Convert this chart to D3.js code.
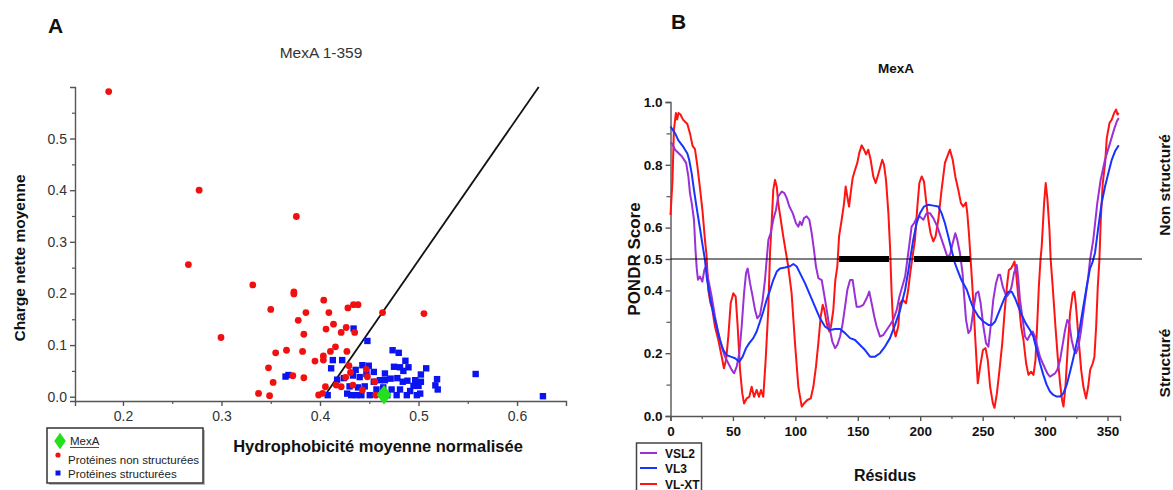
<!DOCTYPE html>
<html><head><meta charset="utf-8">
<script src="https://cdn.jsdelivr.net/npm/d3@7"></script>
<style>body{margin:0;background:#fff;} svg{display:block;font-family:"Liberation Sans",Arial,sans-serif;}</style>
</head><body>
<svg id="c" width="1173" height="490"></svg>
<script>
// ---------- Panel A data ----------
const redX=[0.1855,0.2773,0.2664,0.376,0.3318,0.3735,0.3735,0.2995,0.350,0.3857,0.4038,0.409,0.3779,0.4283,0.434,0.4386,0.4635,0.5055,0.4137,0.4061,0.4266,0.4215,0.4352,0.3836,0.4157,0.4106,0.4273,0.3823,0.355,0.366,0.4034,0.4034,0.3949,0.4294,0.3477,0.4471,0.3724,0.3836,0.426,0.431,0.4481,0.3524,0.4556,0.4164,0.4215,0.4055,0.4334,0.443,0.3376,0.3488,0.3986,0.4027,0.4567];
const redY=[0.591,0.400,0.256,0.349,0.2165,0.203,0.199,0.1147,0.169,0.163,0.187,0.163,0.148,0.172,0.1783,0.1783,0.163,0.161,0.1405,0.131,0.134,0.1245,0.1245,0.121,0.0966,0.0877,0.0877,0.0877,0.085,0.090,0.079,0.0709,0.069,0.06,0.056,0.053,0.0406,0.0367,0.0375,0.047,0.0387,0.0277,0.029,0.0226,0.0193,0.0193,0.0226,0.013,0.0064,0.002,0.0033,0.0066,0.003];
const blueX=[0.4341,0.4481,0.4737,0.4799,0.413,0.4113,0.4225,0.4867,0.5078,0.443,0.4495,0.4751,0.4812,0.4898,0.558,0.5188,0.4362,0.4334,0.4403,0.4471,0.4546,0.4242,0.4174,0.4546,0.4608,0.4659,0.4717,0.4785,0.484,0.4887,0.4949,0.5,0.5024,0.5024,0.4966,0.5171,0.5195,0.4078,0.4276,0.4317,0.4369,0.442,0.4505,0.4683,0.4778,0.4881,0.4983,0.5017,0.6263,0.43,0.4386,0.4454,0.4573,0.4642,0.4727,0.4812,0.4915,0.4659,0.4846,0.365,0.368];
const blueY=[0.132,0.108,0.090,0.085,0.0709,0.055,0.0709,0.0696,0.055,0.061,0.06,0.058,0.057,0.057,0.044,0.034,0.052,0.041,0.038,0.044,0.048,0.036,0.033,0.029,0.032,0.032,0.035,0.036,0.029,0.031,0.021,0.021,0.029,0.043,0.032,0.022,0.014,0.003,0.006,0.003,0.003,0.003,0.003,0.003,0.003,0.003,0.003,0.006,0.001,0.02,0.018,0.02,0.014,0.018,0.014,0.014,0.011,0.045,0.05,0.039,0.042];
const mexaX=[0.465], mexaY=[0.004];
const boundaryX=[0.407,0.622], boundaryY=[0.008,0.600];
const aXTicks=[0.2,0.3,0.4,0.5,0.6], aXMinor=[0.25,0.35,0.45,0.55];
const aYTicks=[0,0.1,0.2,0.3,0.4,0.5], aYMinor=[0.05,0.15,0.25,0.35,0.45,0.55];
const legendA=["MexA","Protéines non structurées","Protéines structurées"];

// ---------- Panel B data ----------
const vlxtRes=[0,1.6,2.7,4.3,5.3,6.4,8,10,13.5,15.6,17.7,19.6,21.4,23.5,25.7,27.5,28.9,30.3,32,33.5,35.6,38.3,41,42.8,44.5,46.3,48.2,50.3,52.2,53.8,55.7,57.5,58.9,61,63.1,65,66.9,69,70.9,72.5,74.3,76.2,78.3,79.7,81,82.3,83.7,85.1,86.3,88.3,90.3,92.5,94.3,97,99.7,102.4,105.1,106.9,109.6,112.3,114.4,116.5,118.4,120.3,121.9,123.2,125.1,127.2,128.5,130.4,132,133.6,135,137.1,139,140.3,141.6,143,144.3,145.9,147.8,149.6,151.2,153.1,155,156.6,158.4,160.3,162.4,164.3,165.9,167.8,169.6,171,172.6,174.5,175.8,177.1,178.4,180.3,182.4,183.8,185.9,188.6,190.4,192.3,195.8,197.7,199.3,201.2,203,204.6,206.5,208.3,210.5,212.3,214.5,217.1,219.8,221.7,223.8,226,228.1,230.5,232.6,234.5,236.6,237.7,239,240.4,242.1,244.3,246.1,248,250.2,252.3,254.1,256,258.2,259.5,261.4,263.5,265.7,267.5,269.4,271,272.8,274.2,275.5,276.8,279,280.8,282.7,284.8,286.7,288.8,290.7,292.3,293.6,295,296.3,297.3,299.2,300.5,301.9,303.5,304.5,306.1,308.3,310.1,312,313.6,314.7,316.3,318.2,320,322.2,323.5,324.8,326.7,328.9,330.7,332.8,334.5,336.1,338.2,339.5,340.9,342.2,343.5,344.6,346.2,348.1,349.4,351.6,353.4,355.3,356.9,358,359];
const vlxtScore=[0.64,0.75,0.91,0.965,0.944,0.965,0.96,0.944,0.93,0.90,0.86,0.85,0.80,0.73,0.65,0.565,0.51,0.40,0.36,0.34,0.285,0.242,0.189,0.152,0.178,0.253,0.359,0.391,0.38,0.285,0.147,0.072,0.04,0.056,0.061,0.093,0.061,0.083,0.061,0.083,0.061,0.178,0.338,0.519,0.614,0.72,0.752,0.73,0.678,0.625,0.572,0.519,0.476,0.391,0.232,0.093,0.03,0.04,0.051,0.056,0.093,0.157,0.232,0.317,0.354,0.338,0.295,0.269,0.285,0.338,0.433,0.476,0.572,0.625,0.678,0.731,0.699,0.667,0.71,0.758,0.784,0.806,0.838,0.862,0.848,0.833,0.848,0.816,0.763,0.742,0.763,0.79,0.816,0.80,0.752,0.646,0.54,0.391,0.285,0.253,0.285,0.359,0.37,0.359,0.402,0.465,0.561,0.667,0.742,0.763,0.747,0.689,0.625,0.582,0.556,0.572,0.625,0.72,0.806,0.827,0.848,0.816,0.763,0.72,0.678,0.667,0.68,0.646,0.582,0.497,0.391,0.232,0.104,0.157,0.21,0.216,0.178,0.093,0.04,0.026,0.072,0.147,0.232,0.327,0.412,0.465,0.47,0.481,0.492,0.455,0.359,0.285,0.242,0.168,0.131,0.141,0.131,0.178,0.285,0.412,0.497,0.54,0.678,0.742,0.689,0.593,0.497,0.412,0.285,0.189,0.104,0.051,0.03,0.093,0.221,0.327,0.391,0.396,0.348,0.253,0.147,0.093,0.056,0.093,0.147,0.168,0.189,0.285,0.412,0.497,0.625,0.742,0.806,0.885,0.933,0.944,0.965,0.976,0.96,0.965];
const vsl2Res=[0,1,3.7,9,12.5,14.3,15.6,17,18.8,20,21,22,23.6,25.5,27.1,28.4,30.3,33,35.6,38.3,41,43.6,46.3,49,50.9,53,55.1,57,58.9,60.5,61.8,63.7,65.8,67.7,69.5,71.7,73.8,75.7,77,78.4,80.2,82.3,84.5,86.3,89.1,91.2,93.1,95.2,97.9,100.5,102.4,103.7,105.1,106.9,109.1,111.2,113.1,114.9,116.5,118.4,121.1,122.9,125.1,127.2,129.6,131.8,133.6,135.8,137.9,139.8,141.6,143.8,145.9,147.8,149.1,151.8,154.4,157.1,159.2,161.1,163.2,165.1,167.8,170.4,173.1,175.8,178.4,181.2,183.3,187.9,190.4,193.1,195,197.1,199.8,202.5,205.1,207.8,210.5,213.7,216.3,219,221.7,223.8,226,228.1,229.7,231.8,233.9,234.6,236.7,238.6,240.4,242.6,244.7,246.6,248.4,250.6,252.7,254.6,256.4,258.5,260.7,262.6,264,266.1,268,269.3,271.4,273.2,275.1,277.3,278.6,279.9,282.1,283.9,285.8,287.9,290.1,291.9,293.8,295.9,298.1,299.9,301.8,303.9,306.1,308,309.8,312,313.8,316,317.8,319.4,321.3,323.2,324.8,326.7,328.5,330.6,332.8,334.6,336,338.6,341.8,344.5,348,352,355.2,357.4,359];
const vsl2Score=[0.87,0.869,0.848,0.827,0.806,0.763,0.71,0.678,0.625,0.53,0.47,0.434,0.444,0.428,0.465,0.476,0.434,0.38,0.317,0.264,0.221,0.189,0.168,0.147,0.136,0.157,0.2,0.285,0.391,0.455,0.47,0.423,0.38,0.338,0.311,0.322,0.37,0.434,0.497,0.561,0.582,0.625,0.657,0.699,0.715,0.71,0.694,0.667,0.646,0.614,0.603,0.619,0.608,0.63,0.636,0.625,0.582,0.529,0.476,0.439,0.433,0.391,0.338,0.285,0.237,0.216,0.226,0.253,0.295,0.348,0.401,0.433,0.433,0.38,0.348,0.348,0.354,0.375,0.396,0.359,0.317,0.285,0.253,0.258,0.274,0.29,0.306,0.338,0.38,0.444,0.519,0.603,0.614,0.63,0.635,0.625,0.646,0.646,0.63,0.603,0.572,0.54,0.508,0.513,0.55,0.582,0.561,0.519,0.455,0.412,0.306,0.264,0.274,0.338,0.391,0.396,0.359,0.285,0.232,0.221,0.285,0.37,0.423,0.45,0.45,0.412,0.391,0.38,0.391,0.412,0.455,0.481,0.434,0.37,0.306,0.253,0.242,0.258,0.269,0.253,0.221,0.189,0.168,0.152,0.136,0.125,0.131,0.136,0.147,0.178,0.221,0.274,0.306,0.295,0.242,0.21,0.2,0.221,0.264,0.327,0.391,0.444,0.497,0.561,0.678,0.752,0.816,0.869,0.912,0.938,0.949];
const vl3Res=[0,3.7,6.3,10.3,13.5,15,17,18.8,20.8,23.5,26,27.5,29.3,31.6,34.3,37,39.6,42.3,45,48.2,51.7,55.1,57.8,60.5,63.1,66.3,69,71.7,74.3,77,79.7,82.3,85.1,87.7,91.7,95.7,98.4,101.1,103.7,107.7,111.7,115.7,119.7,123.7,127.7,131.8,135.8,139.8,143.8,147.8,151.8,155.8,159.8,163.8,167.8,171.8,175.8,179.8,183.9,187.9,190.6,191.8,194.4,197.1,199.8,203,206.5,210.5,214.5,217.1,219.8,222.5,225.1,227.8,229.8,233,237.3,240,242.6,246.6,250.6,254.6,257.3,260,262.6,265.3,268,270.6,273.3,276,278.6,281.3,284.5,287.9,290.6,293.3,295.9,298.6,301.3,303.9,306.6,309.3,312,314.6,317.3,320,322.6,325.3,328,330.6,333.3,336,338,340,342.7,345.3,348,350.7,353.4,356,359];
const vl3Score=[0.922,0.9,0.878,0.857,0.836,0.815,0.772,0.72,0.667,0.60,0.536,0.50,0.433,0.38,0.327,0.285,0.242,0.21,0.194,0.189,0.184,0.173,0.189,0.216,0.232,0.248,0.269,0.301,0.333,0.37,0.401,0.433,0.46,0.47,0.473,0.477,0.484,0.476,0.455,0.423,0.386,0.348,0.311,0.285,0.274,0.277,0.277,0.264,0.248,0.242,0.226,0.21,0.189,0.189,0.2,0.221,0.248,0.29,0.338,0.402,0.465,0.497,0.561,0.614,0.646,0.667,0.673,0.67,0.667,0.646,0.614,0.572,0.529,0.487,0.465,0.433,0.402,0.37,0.343,0.317,0.301,0.29,0.29,0.301,0.327,0.354,0.38,0.396,0.396,0.375,0.348,0.322,0.295,0.274,0.253,0.21,0.168,0.131,0.099,0.078,0.067,0.062,0.062,0.072,0.099,0.141,0.184,0.232,0.285,0.348,0.412,0.47,0.49,0.52,0.603,0.678,0.731,0.774,0.816,0.843,0.862];
const barStart=[135,195], barEnd=[175,240];
const threshold=0.5;
const bXTicks=[0,50,100,150,200,250,300,350], bXMinor=[25,75,125,175,225,275,325];
const bYTicks=[0,0.2,0.4,0.5,0.6,0.8,1.0], bYMinor=[0.1,0.3,0.7,0.9];
const seriesNames=["VSL2","VL3","VL-XT"];
const seriesColors=["#9b30d6","#1633ff","#ff1414"];

const svg=d3.select("#c");

// ================= Panel A =================
const xA=d3.scaleLinear().domain([0.1513,0.6497]).range([75,566]);
const yA=d3.scaleLinear().domain([-0.0083,0.5998]).range([401,87]);
const gA=svg.append("g");
gA.append("text").attr("x",48).attr("y",33).attr("font-size",21).attr("font-weight","bold").attr("fill","#111").text("A");
gA.append("text").attr("x",321).attr("y",58).attr("text-anchor","middle").attr("font-size",15.5).attr("fill","#333").text("MexA 1-359");

function styleAxis(g,col,w){g.select(".domain").attr("stroke",col).attr("stroke-width",w);g.selectAll(".tick line").attr("stroke",col).attr("stroke-width",w);}
const axXA=gA.append("g").attr("transform","translate(0,401)").call(d3.axisBottom(xA).tickValues(aXTicks).tickFormat(d3.format(".1f")).tickSizeOuter(0).tickSize(5).tickPadding(5));
styleAxis(axXA,"#555",1.4);
axXA.selectAll("text").attr("font-size",14).attr("fill","#333").attr("font-family","Liberation Sans, Arial");
const axXAm=gA.append("g").attr("transform","translate(0,401)").call(d3.axisBottom(xA).tickValues(aXMinor).tickFormat("").tickSizeOuter(0).tickSize(3));
styleAxis(axXAm,"#555",1.2);axXAm.select(".domain").remove();
const axYA=gA.append("g").attr("transform","translate(75,0)").call(d3.axisLeft(yA).tickValues(aYTicks).tickFormat(d3.format(".1f")).tickSizeOuter(0).tickSize(5).tickPadding(3));
styleAxis(axYA,"#555",1.4);
axYA.selectAll("text").attr("font-size",14).attr("fill","#333").attr("font-family","Liberation Sans, Arial");
const axYAm=gA.append("g").attr("transform","translate(75,0)").call(d3.axisLeft(yA).tickValues(aYMinor).tickFormat("").tickSizeOuter(0).tickSize(3));
styleAxis(axYAm,"#555",1.2);axYAm.select(".domain").remove();

gA.append("text").attr("transform","translate(25,258) rotate(-90)").attr("text-anchor","middle").attr("font-size",15.5).attr("font-weight","bold").attr("fill","#111").text("Charge nette moyenne");
gA.append("text").attr("x",378).attr("y",452).attr("text-anchor","middle").attr("font-size",16.5).attr("font-weight","bold").attr("fill","#111").text("Hydrophobicité moyenne normalisée");

gA.append("line").attr("x1",xA(boundaryX[0])).attr("y1",yA(boundaryY[0])).attr("x2",xA(boundaryX[1])).attr("y2",yA(boundaryY[1])).attr("stroke","#111").attr("stroke-width",1.8);

const blueData=blueX.map((x,i)=>[x,blueY[i]]);
gA.selectAll(".bsq").data(blueData).enter().append("rect").attr("x",d=>xA(d[0])-3.2).attr("y",d=>yA(d[1])-3.2).attr("width",6.4).attr("height",6.4).attr("fill","#0a14f0");
const redData=redX.map((x,i)=>[x,redY[i]]);
gA.selectAll(".rdot").data(redData).enter().append("circle").attr("cx",d=>xA(d[0])).attr("cy",d=>yA(d[1])).attr("r",3.4).attr("fill","#f01010");
const diamond=d3.symbol().type(d3.symbolDiamond).size(110);
gA.selectAll(".mx").data(mexaX.map((x,i)=>[x,mexaY[i]])).enter().append("path").attr("d",diamond).attr("transform",d=>`translate(${xA(d[0])},${yA(d[1])}) scale(1.3,1)`).attr("fill","#22e01a");

// legend A
gA.append("rect").attr("x",49).attr("y",430).attr("width",156).attr("height",55).attr("fill","#bbb");
gA.append("rect").attr("x",47).attr("y",428).attr("width",156).attr("height",55).attr("fill","#fff").attr("stroke","#333").attr("stroke-width",1.5);
gA.append("path").attr("d",d3.symbol().type(d3.symbolDiamond).size(80)).attr("transform","translate(60,441) scale(1.2,1)").attr("fill","#22e01a");
gA.append("text").attr("x",70).attr("y",445).attr("font-size",11.5).attr("fill","#222").text(legendA[0]);
gA.append("line").attr("x1",70).attr("x2",99).attr("y1",447.5).attr("y2",447.5).attr("stroke","#f00").attr("stroke-width",1);
gA.append("circle").attr("cx",58).attr("cy",455).attr("r",2.6).attr("fill","#f01010");
gA.append("text").attr("x",68).attr("y",464).attr("font-size",11.5).attr("fill","#222").text(legendA[1]);
gA.append("rect").attr("x",55.5).attr("y",470.5).attr("width",5).attr("height",5).attr("fill","#0a14f0");
gA.append("text").attr("x",68).attr("y",478).attr("font-size",11.5).attr("fill","#222").text(legendA[2]);

// ================= Panel B =================
const xB=d3.scaleLinear().domain([0,360]).range([670.5,1120]);
const yB=d3.scaleLinear().domain([0,1]).range([416,102]);
const gB=svg.append("g");
gB.append("text").attr("x",671).attr("y",29).attr("font-size",21).attr("font-weight","bold").attr("fill","#111").text("B");
gB.append("text").attr("x",896).attr("y",73).attr("text-anchor","middle").attr("font-size",13.5).attr("font-weight","bold").attr("fill","#111").text("MexA");

const axXB=gB.append("g").attr("transform","translate(0,416)").call(d3.axisBottom(xB).tickValues(bXTicks).tickFormat(d3.format("d")).tickSizeOuter(0).tickSize(5).tickPadding(5));
styleAxis(axXB,"#555",1.4);
axXB.selectAll("text").attr("font-size",13.5).attr("font-weight","bold").attr("fill","#111").attr("font-family","Liberation Sans, Arial");
const axXBm=gB.append("g").attr("transform","translate(0,416)").call(d3.axisBottom(xB).tickValues(bXMinor).tickFormat("").tickSizeOuter(0).tickSize(3));
styleAxis(axXBm,"#555",1.2);axXBm.select(".domain").remove();
const axYB=gB.append("g").attr("transform","translate(670.5,0)").call(d3.axisLeft(yB).tickValues(bYTicks).tickFormat(d3.format(".1f")).tickSizeOuter(0).tickSize(5).tickPadding(3));
styleAxis(axYB,"#555",1.4);
axYB.selectAll("text").attr("font-size",13.5).attr("font-weight","bold").attr("fill","#111").attr("font-family","Liberation Sans, Arial");
const axYBm=gB.append("g").attr("transform","translate(670.5,0)").call(d3.axisLeft(yB).tickValues(bYMinor).tickFormat("").tickSizeOuter(0).tickSize(4));
styleAxis(axYBm,"#555",1.2);axYBm.select(".domain").remove();

gB.append("text").attr("transform","translate(640,259) rotate(-90)").attr("text-anchor","middle").attr("font-size",17).attr("font-weight","bold").attr("fill","#111").text("PONDR Score");
gB.append("text").attr("x",885).attr("y",481).attr("text-anchor","middle").attr("font-size",16).attr("font-weight","bold").attr("fill","#111").text("Résidus");
gB.append("text").attr("transform","translate(1170,185) rotate(-90)").attr("text-anchor","middle").attr("font-size",15.5).attr("font-weight","bold").attr("fill","#111").text("Non structuré");
gB.append("text").attr("transform","translate(1170,363) rotate(-90)").attr("text-anchor","middle").attr("font-size",15.5).attr("font-weight","bold").attr("fill","#111").text("Structuré");

const line=d3.line().x(d=>xB(d[0])).y(d=>yB(d[1]));
const series=[
  {res:vlxtRes,sc:vlxtScore,col:seriesColors[2]},
  {res:vsl2Res,sc:vsl2Score,col:seriesColors[0]},
  {res:vl3Res,sc:vl3Score,col:seriesColors[1]}
];
series.forEach(s=>{
  gB.append("path").datum(s.res.map((r,i)=>[r,s.sc[i]])).attr("d",line).attr("fill","none").attr("stroke",s.col).attr("stroke-width",2).attr("stroke-linejoin","round");
});
gB.append("line").attr("x1",xB(0)).attr("x2",1142).attr("y1",yB(threshold)).attr("y2",yB(threshold)).attr("stroke","#000").attr("stroke-width",1.2);
barStart.forEach((b,i)=>{
  gB.append("rect").attr("x",xB(b)).attr("y",yB(threshold)-3).attr("width",xB(barEnd[i])-xB(b)).attr("height",6).attr("fill","#000");
});

// legend B
gB.append("rect").attr("x",636.5).attr("y",443).attr("width",65).attr("height",60).attr("fill","#fff").attr("stroke","#444").attr("stroke-width",1.5);
const legY=[453,468,484];
seriesNames.forEach((n,i)=>{
  gB.append("line").attr("x1",640).attr("x2",657).attr("y1",legY[i]).attr("y2",legY[i]).attr("stroke",seriesColors[i]).attr("stroke-width",2);
  gB.append("text").attr("x",665).attr("y",legY[i]+4.5).attr("font-size",12).attr("font-weight","bold").attr("fill","#111").text(n);
});
</script>
</body></html>
